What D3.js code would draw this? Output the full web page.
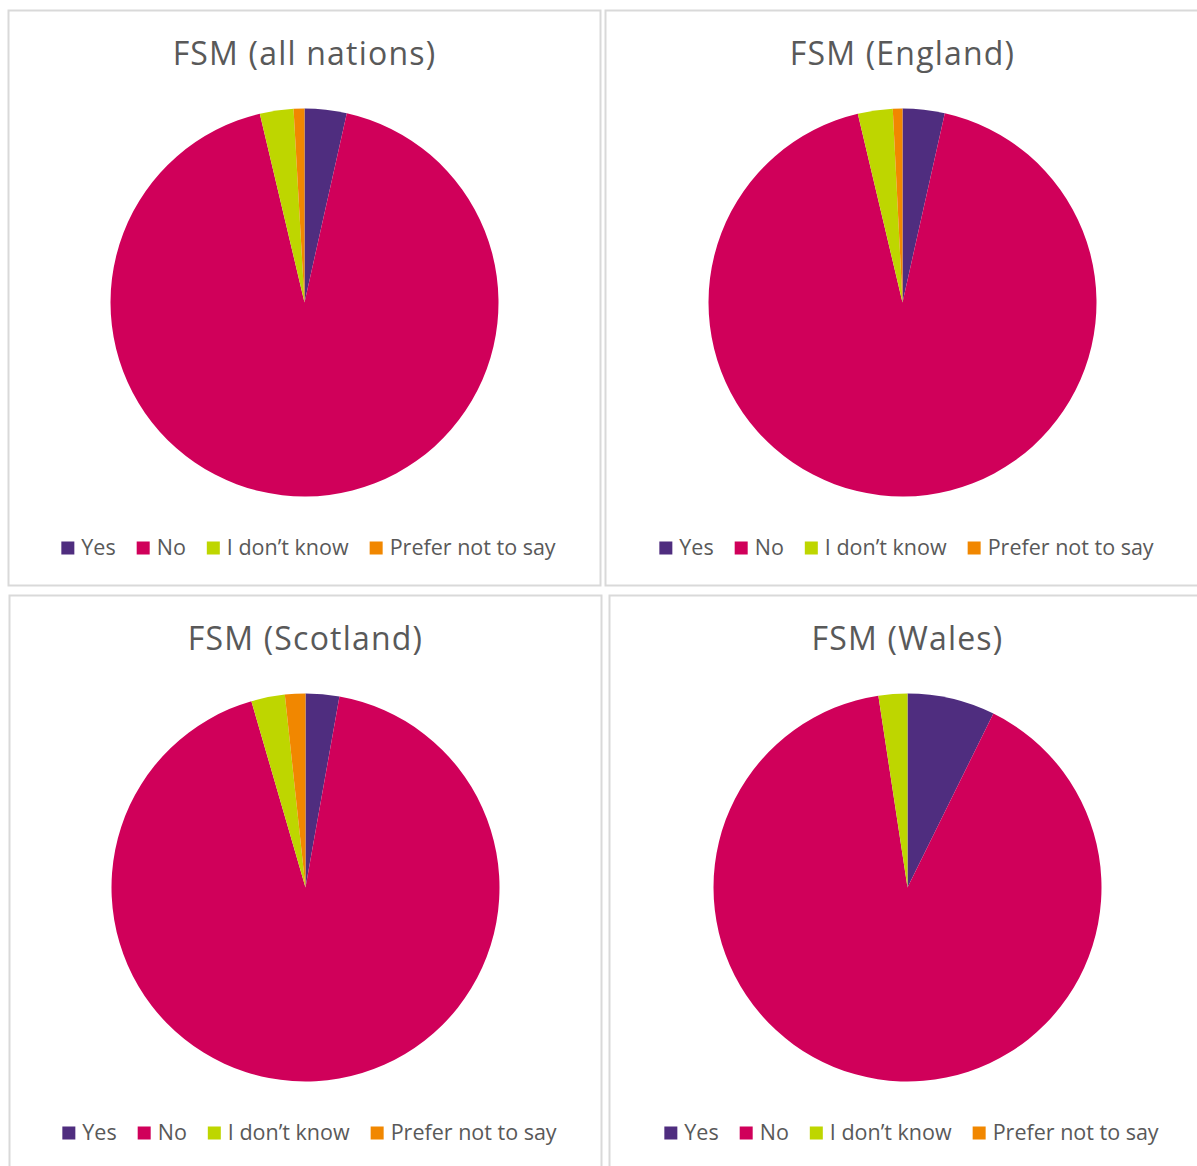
<!DOCTYPE html>
<html>
<head>
<meta charset="utf-8">
<script src="https://cdn.jsdelivr.net/npm/d3@7"></script>
<style>
  html, body { margin: 0; padding: 0; background: #ffffff; }
  svg { display: block; }
</style>
</head>
<body>
<svg id="chart" width="1197" height="1166"></svg>
<script>
// Response categories shared by every pie
const categories = ["Yes", "No", "I don\u2019t know", "Prefer not to say"];
const categoryColors = ["#4f2d7f", "#d0005a", "#bed600", "#f18700"];

// Chart titles
const titles = ["FSM (all nations)", "FSM (England)", "FSM (Scotland)", "FSM (Wales)"];

// Share of responses (%) for each nation, in category order
const allNations = [3.5, 92.8, 2.8, 0.9];
const england    = [3.5, 92.8, 2.9, 0.8];
const scotland   = [2.8, 92.7, 2.8, 1.7];
const wales      = [7.3, 90.3, 2.4, 0.0];

const seriesList = [allNations, england, scotland, wales];

// Panel frames (left, top, width, height)
const frames = [
  { x: 8.5,   y: 10.5,  w: 592, h: 575 },
  { x: 605.5, y: 10.5,  w: 594, h: 575 },
  { x: 9.5,   y: 595.5, w: 592, h: 575 },
  { x: 609.5, y: 595.5, w: 596, h: 575 }
];

const svg = d3.select("#chart");
const radius = 194;
const pie = d3.pie().sort(null).value(d => d);
const arc = d3.arc().innerRadius(0).outerRadius(radius);
const color = d3.scaleOrdinal().domain(categories).range(categoryColors);
const fontFamily = "'Open Sans', 'Liberation Sans', sans-serif";

frames.forEach((f, i) => {
  const g = svg.append("g").attr("transform", `translate(${f.x},${f.y})`);

  g.append("rect")
    .attr("width", f.w).attr("height", f.h)
    .attr("fill", "#ffffff")
    .attr("stroke", "#d9d9d9")
    .attr("stroke-width", 2);

  const cx = f.w / 2;

  g.append("text")
    .attr("x", cx).attr("y", 54)
    .attr("text-anchor", "middle")
    .attr("font-family", fontFamily)
    .attr("font-size", 32)
    .attr("letter-spacing", 1.2)
    .attr("fill", "#595959")
    .text(titles[i]);

  const pieG = g.append("g").attr("transform", `translate(${cx},292)`);
  const data = seriesList[i].map((v, k) => ({ cat: categories[k], v }));
  pieG.selectAll("path")
    .data(pie.value(d => d.v)(data))
    .join("path")
    .attr("d", arc)
    .attr("fill", d => color(d.data.cat));

  // Legend, centred under the pie
  const leg = g.append("g").attr("transform", "translate(0,544)");
  const items = leg.selectAll("g.item")
    .data(categories)
    .join("g").attr("class", "item");
  items.append("rect")
    .attr("y", -13).attr("width", 13).attr("height", 13)
    .attr("fill", d => color(d));
  items.append("text")
    .attr("x", 20).attr("y", 0)
    .attr("font-family", fontFamily)
    .attr("font-size", 21.5)
    .attr("fill", "#595959")
    .text(d => d);

  const gap = 21;
  const widths = [];
  items.each(function() {
    widths.push(20 + d3.select(this).select("text").node().getComputedTextLength());
  });
  const total = d3.sum(widths) + gap * (widths.length - 1);
  let pos = cx + 4 - total / 2;
  items.each(function(d, k) {
    d3.select(this).attr("transform", `translate(${pos},0)`);
    pos += widths[k] + gap;
  });
});
</script>
</body>
</html>
